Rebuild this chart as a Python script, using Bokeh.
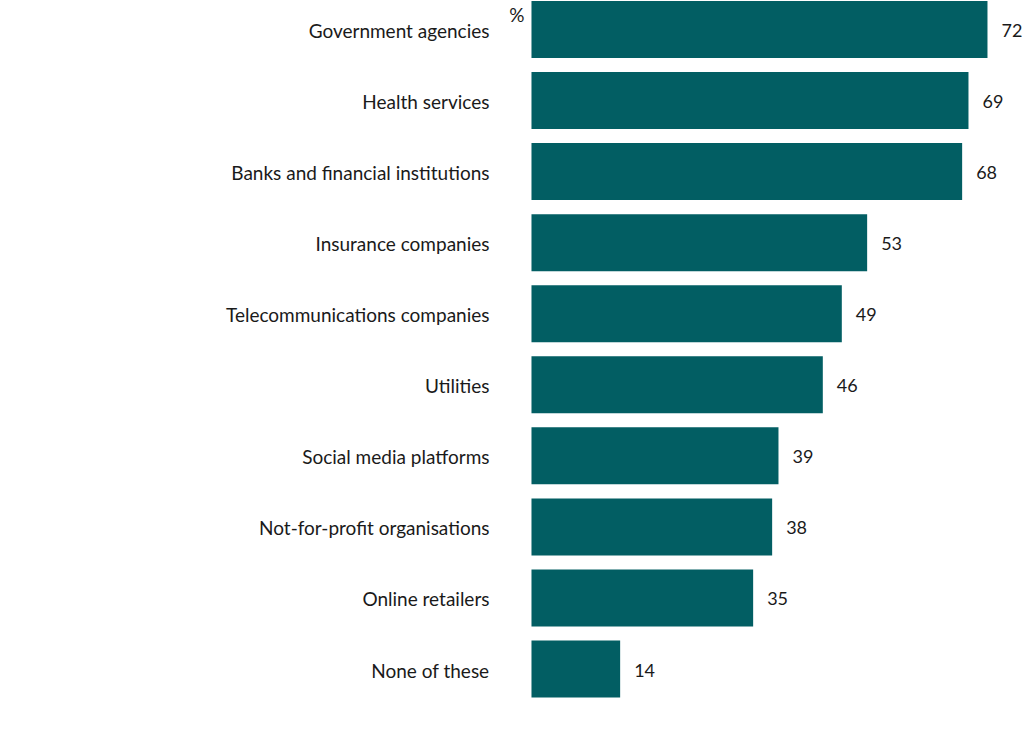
from bokeh.plotting import figure
from bokeh.models import Range1d, ColumnDataSource
from bokeh.core.properties import value
from bokeh.embed import file_html
from bokeh.resources import INLINE

categories = [
    "Government agencies",
    "Health services",
    "Banks and financial institutions",
    "Insurance companies",
    "Telecommunications companies",
    "Utilities",
    "Social media platforms",
    "Not-for-profit organisations",
    "Online retailers",
    "None of these",
]
values = [72, 69, 68, 53, 49, 46, 39, 38, 35, 14]
unit_label = "%"

BAR = "#025E63"
TXT = "#1a1a1a"
FONT = "Lato"

ypos = list(range(len(categories)))
src = ColumnDataSource(dict(
    y=ypos,
    v=values,
    cat=categories,
    vlab=[str(v) for v in values],
))

p = figure(width=1022, height=738, output_backend="svg", toolbar_location=None,
           x_range=Range1d(-83.84, 77.53), y_range=Range1d(9.978, -0.408),
           min_border=0, outline_line_color=None)
p.xaxis.visible = False
p.yaxis.visible = False
p.grid.visible = False
p.background_fill_color = "white"
p.border_fill_color = "white"

p.hbar(y="y", left=0, right="v", height=0.802, source=src, fill_color=BAR,
       line_color=None)

p.text(x=-6.63, y="y", text="cat", source=src, text_align="right",
       text_baseline="middle", y_offset=1, text_font=value(FONT),
       text_font_size="19px", text_color=TXT)

p.text(x="v", y="y", text="vlab", source=src, x_offset=14, text_align="left",
       text_baseline="middle", y_offset=1, text_font=value(FONT),
       text_font_size="18px", text_color=TXT)

p.text(x=[-1.1], y=[-0.408], text=[unit_label], text_align="right",
       text_baseline="top", y_offset=2, text_font=value(FONT),
       text_font_size="19px", text_color=TXT)

open("out.html", "w").write(file_html(p, INLINE))
